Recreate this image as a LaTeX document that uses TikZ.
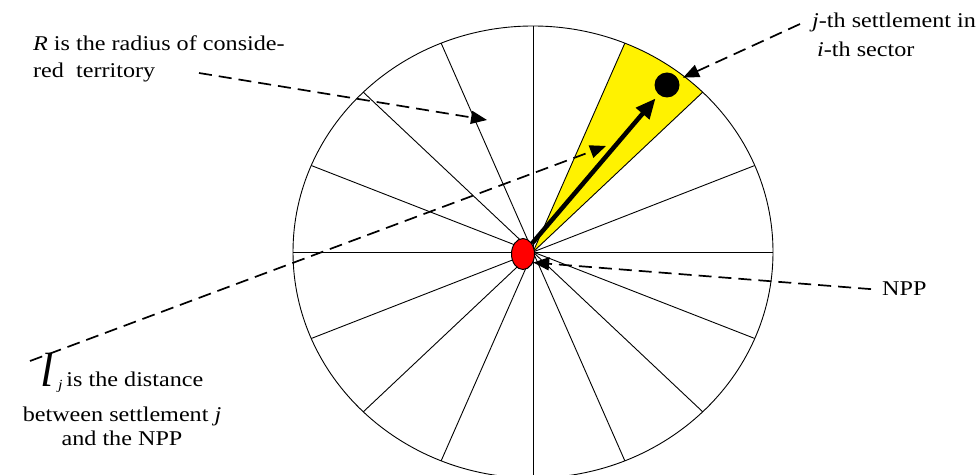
\documentclass[tikz,border=0pt]{standalone}
\usepackage{fontspec}
\setmainfont{Liberation Serif}[FakeStretch=1.15]
\newfontfamily\plainserif{Liberation Serif}
\usepackage{tikz}
\usetikzlibrary{arrows.meta,positioning,calc,shapes.geometric}
\tikzset{
    sector/.style={fill=yellow},
    spoke/.style={line width=0.9pt},
    rim/.style={line width=0.9pt},
    callout/.style={dash pattern=on 13pt off 7pt, line width=1.7pt, -{Triangle[length=16pt, width=13pt]}},
    dist/.style={line width=4.5pt, -{Triangle[length=20pt, width=17pt]}},
    settlement/.style={circle, fill=black, minimum size=25pt, inner sep=0},
    npp/.style={ellipse, draw, line width=1pt, fill=red, minimum width=23pt, minimum height=31pt, inner sep=0},
    lbl/.style={font=\fontsize{21}{27}\selectfont, align=left, inner sep=0},
}

\begin{document}
\begin{tikzpicture}[x=1pt, y=1pt]
    \useasboundingbox (0,0) rectangle (977,474);
    \coordinate (c) at (533,222);
    \fill[sector] (c) -- ($(c)+({240*cos(45)},{226*sin(45)})$) arc[start angle=45, end angle=67.5, x radius=240, y radius=226] -- cycle;
    \foreach \a in {0,22.5,...,157.5}
        \draw[spoke] ($(c)+({240*cos(\a)},{226*sin(\a)})$) -- ($(c)-({240*cos(\a)},{226*sin(\a)})$);
    \draw[rim] (c) ellipse[x radius=240, y radius=226];

    \node[npp] (reactor) at (523,220) {};
    \node[settlement] (town) at (667,389) {};

    \node[lbl, anchor=north west] (rlabel) at (33,438) {\textit{R} is the radius of conside-\\red~~territory};
    \node[lbl, anchor=north west, font=\fontsize{21}{29}\selectfont] (jlabel) at (812,461) {\textit{j}-th settlement in\\\hspace*{5pt}\textit{i}-th sector};
    \node[lbl, anchor=base west] (nlabel) at (882,178) {NPP};
    \node[lbl, anchor=north, align=center, font=\fontsize{21}{24}\selectfont] (ljlabel) at (122,121)
        {{\plainserif\itshape\fontsize{48}{48}\selectfont l}\hspace{4pt}\raisebox{-3pt}{\fontsize{14}{14}\selectfont\textit{j}}\hspace{4pt}is the distance\\[11pt]
         between settlement \textit{j}\\and the NPP};

    \coordinate (rtail) at (199,401);
    \coordinate (rtip) at (487,354);
    \coordinate (ljtail) at (30,113);
    \coordinate (ljtip) at (606,328);
    \coordinate (jtail) at ([shift={(-12pt,-11pt)}]jlabel.north west);

    \draw[dist, shorten >=5pt] (reactor) -- (town);
    \draw[callout] (rtail) -- (rtip);
    \draw[callout] (ljtail) -- (ljtip);
    \draw[callout, shorten >=5pt] (jtail) -- (town);
    \draw[callout] ([xshift=-11pt]nlabel.west) -- (reactor.-40);
\end{tikzpicture}
\end{document}
